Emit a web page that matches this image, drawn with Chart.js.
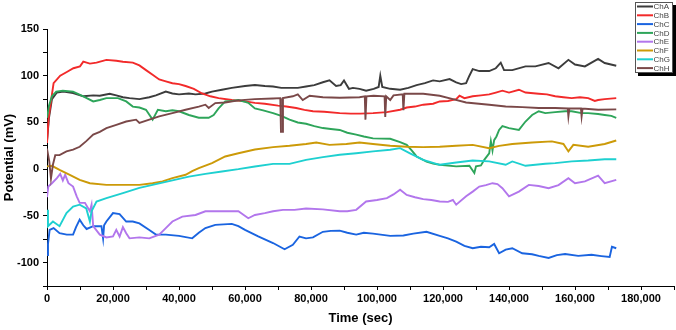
<!DOCTYPE html>
<html lang="en">
  <head>
    <meta charset="UTF-8" />
    <title>Potential vs Time</title>
    <script src="https://cdn.jsdelivr.net/npm/chart.js"></script>
    <style>
      body {
        margin: 0;
        background: #fff;
      }
      canvas {
        display: block;
      }
    </style>
  </head>
  <body>
    <canvas id="grafico" width="676" height="330"></canvas>

    <script>
      // [time (sec), potential (mV)]
      const names = ["ChA", "ChB", "ChC", "ChD", "ChE", "ChF", "ChG", "ChH"];
      const colors = ["#3c3c3c", "#f22a2a", "#1a64e0", "#2ea55a", "#b276ec", "#cc9a08", "#1ed0d0", "#7a4848"];
      const xTicks = [0, 20000, 40000, 60000, 80000, 100000, 120000, 140000, 160000, 180000];
      const yTicks = [-100, -50, 0, 50, 100, 150];

      const chA = [[0, 30], [600, 55], [1500, 75], [3000, 82], [5000, 83], [7900, 81.5], [11000, 78], [14000, 79], [16000, 78.6], [19000, 80.7], [21000, 79], [23000, 77], [25000, 76], [28000, 75], [31000, 77], [33000, 79], [36000, 83], [38000, 81], [40000, 80], [43000, 81], [45000, 80], [48000, 81], [50000, 83], [53000, 85], [56000, 87], [60000, 89], [63000, 90], [66000, 89], [68500, 88.5], [71000, 87], [73500, 87], [76000, 87], [78500, 88.5], [81000, 90], [83600, 93], [85600, 95], [87600, 89], [89000, 90], [90000, 95], [91500, 86], [92700, 87], [94700, 86], [96700, 84], [99000, 86], [100500, 88], [101000, 100], [101600, 88], [104000, 86], [107000, 85], [109500, 87], [112000, 90], [114500, 92], [117000, 95], [119000, 94], [122000, 96.4], [124000, 93], [125500, 91], [127000, 92], [128000, 100], [129000, 107], [131000, 105], [134000, 105], [136000, 108], [137500, 114], [138500, 106], [141000, 106], [145000, 110], [148000, 110], [152000, 113.6], [155000, 108], [158000, 117], [160000, 112], [163000, 110], [167000, 118], [169000, 113.6], [172500, 110.7]];
      const chB = [[0, 28], [500, 55], [1500, 80], [2000, 92], [4000, 100], [6000, 104], [8000, 108], [10000, 110], [11000, 115], [13000, 113], [15000, 114], [18000, 117], [21000, 116], [23000, 115], [26000, 114], [28000, 111], [30000, 106], [32000, 101], [34000, 96], [36000, 94], [38000, 92], [40000, 91], [42000, 89], [44500, 86], [47000, 81], [49500, 78], [52000, 76], [56000, 74], [60000, 72.5], [63000, 71], [66000, 70], [70000, 68], [72500, 67], [75500, 65.5], [78000, 63.5], [80600, 62], [84000, 61.5], [88700, 60], [92000, 59.5], [95000, 59.5], [98800, 60], [103000, 61], [107000, 63.6], [109000, 66], [111500, 67], [114000, 69], [117000, 70], [119000, 72.5], [121500, 73], [124000, 75], [125000, 78.6], [126500, 76], [129000, 78], [131500, 79], [134000, 80], [136000, 82], [138000, 84], [140000, 82], [143000, 85], [145000, 82], [149000, 80.7], [151500, 80], [154000, 78], [156500, 77], [159000, 76], [161500, 77], [164000, 76], [166000, 73], [167000, 74], [169000, 75], [172500, 76]];
      const chC = [[0, -92], [300, -80], [800, -65], [2000, -63], [3800, -68.5], [6000, -70], [7900, -70], [8800, -62], [9900, -54], [11000, -60], [12000, -64], [14000, -61], [16500, -61], [17000, -74], [17300, -60], [18000, -56], [20000, -47], [22000, -48], [24000, -56], [26000, -56], [28000, -58], [31000, -65], [33000, -70], [36000, -70], [40000, -71.4], [44000, -74], [46000, -68], [48000, -63], [51000, -59.6], [56000, -58.5], [58000, -61], [60000, -65], [64000, -72], [68500, -79], [72000, -85.7], [74500, -81], [76500, -72], [78500, -74], [80600, -73], [83600, -67], [86000, -66], [88700, -65.7], [91000, -68], [93700, -70], [96000, -68], [98800, -69], [104000, -71.4], [108000, -71], [111000, -69], [115000, -67], [119000, -71.4], [121500, -74], [124000, -77.5], [126500, -82], [129000, -84.6], [131500, -83], [134000, -83.5], [135500, -80], [137000, -90], [139000, -86], [141000, -84.6], [144000, -90], [147000, -91], [149000, -92.8], [152000, -95], [154500, -92], [157000, -90.7], [161000, -92.8], [165000, -91.6], [168000, -93], [170500, -94], [171200, -83], [172500, -84.6]];
      const chD = [[0, 55], [600, 68], [1500, 78], [2800, 83], [4800, 84], [7900, 83], [11000, 78], [14000, 72.5], [16000, 74], [18000, 76], [21500, 76], [24000, 72.5], [26000, 67], [28000, 66], [30000, 63.6], [32000, 53], [33600, 63.6], [36000, 62], [38000, 63], [40000, 62], [43000, 58], [46000, 55], [49000, 55], [50500, 58], [52000, 65], [54000, 72.5], [56000, 73], [58000, 74], [60000, 72], [61000, 71], [63000, 65], [65500, 63], [68500, 60], [71000, 57], [73500, 53], [76000, 50], [78500, 48.6], [81000, 46], [83600, 44], [86000, 43], [88700, 42], [91000, 39], [93700, 37], [96000, 35], [98800, 33], [104000, 32.5], [107000, 29], [109000, 26], [110500, 20], [112000, 13.6], [115000, 8], [117000, 6], [119000, 4.7], [124000, 3], [128000, 3.6], [129500, -4], [130000, 3], [131500, 4], [132500, 10], [134000, 17], [134500, 30], [135000, 20], [135500, 31], [136200, 35], [137000, 42], [138000, 46], [140000, 44], [143000, 42], [145000, 51], [147000, 58], [149000, 62], [151000, 60], [154000, 61], [157000, 62], [159000, 62], [162000, 60], [164000, 60], [167000, 59], [169000, 58], [171000, 57], [172500, 55]];
      const chE = [[0, -30], [400, -18.6], [1500, -15], [3000, -9.6], [4000, -5], [4800, -12], [5500, -6], [6500, -15], [7900, -18.6], [9000, -29], [9900, -36], [11500, -36], [13000, -45], [13500, -38], [14000, -61], [16000, -70], [18000, -73], [20000, -72], [21000, -65], [22000, -72], [23000, -62], [24000, -68.5], [25000, -74], [28000, -73], [31000, -74], [34000, -70], [36000, -63], [38000, -56], [41000, -50.7], [45000, -49], [48000, -45], [53000, -45], [58000, -45], [61000, -52.5], [63000, -49], [66000, -47], [68500, -45], [71500, -43.5], [75000, -43.5], [78500, -42], [83600, -43], [88700, -45], [91000, -45], [93700, -43.5], [96700, -34.6], [100000, -33], [103000, -31], [105000, -27], [107000, -22], [109000, -27.5], [111500, -30], [114000, -32], [116500, -33], [119000, -34.6], [121500, -35], [123000, -33], [124000, -38], [127000, -29], [129000, -24], [131000, -18.6], [133000, -17], [135000, -15], [136500, -16], [138000, -20.3], [140000, -29], [143000, -24], [146000, -16.8], [149000, -18], [152000, -20.3], [155000, -17], [158000, -9.6], [160000, -15], [163000, -13], [167000, -7], [169000, -15], [172500, -11.4]];
      const chF = [[0, 3], [1500, 3.6], [3800, -0.7], [6900, -6], [9900, -11.4], [13000, -15], [18000, -16.8], [23000, -16.8], [28000, -16.8], [32000, -15], [35000, -13], [38000, -9.6], [42000, -6], [44000, -2], [46000, 1.1], [50000, 6.5], [54000, 13.6], [58000, 17], [63000, 21], [68500, 23.6], [73500, 25], [78500, 27], [81600, 28.6], [85600, 26], [90700, 27], [94700, 28.6], [98800, 27], [104000, 25], [109000, 24], [114000, 23.6], [119000, 24], [124000, 25], [129000, 26], [134000, 22.5], [137000, 25], [141000, 27], [147000, 28.6], [153000, 29.7], [156500, 27], [158000, 19], [159500, 26], [164000, 24], [169000, 27], [172500, 30.7]];
      const chG = [[0, -43.5], [300, -61], [1800, -56], [3800, -61], [5900, -47], [7900, -40], [9900, -38], [11900, -42], [13000, -56], [13500, -45], [15000, -34.6], [18000, -31], [23000, -25.7], [28000, -20], [33000, -16], [38000, -12], [43000, -8], [48000, -5], [53000, -2.5], [58000, 0], [63000, 2.9], [68500, 5.7], [73500, 5.7], [78500, 10], [83600, 12.9], [88700, 15.4], [93700, 17], [98800, 19], [104000, 20.8], [107000, 22.5], [110000, 17], [114000, 10], [119000, 4.7], [124000, 7.2], [129000, 9.3], [134000, 8.3], [139000, 4.7], [141000, 8.3], [145000, 3.6], [151000, 5.8], [154000, 6.5], [159000, 8.3], [164000, 9.3], [169000, 10.7], [172500, 10.7]];
      const chH = [[0, 22], [700, 8], [1200, -10], [1800, 5], [2500, 15], [3800, 15], [5900, 19], [7900, 21], [9900, 24], [11900, 30], [14000, 37], [16000, 40], [18000, 44], [21000, 47.5], [24000, 51], [27000, 53], [28000, 49.6], [31000, 53], [34000, 56.5], [38000, 60], [42000, 63.6], [46000, 67], [48000, 69], [49000, 65.5], [51000, 70.7], [54000, 71.4], [58000, 73.6], [63000, 75], [68500, 75.7], [70700, 76], [70900, 40], [71300, 40], [71500, 76], [74500, 78], [76000, 80], [77500, 74], [79600, 78.6], [83600, 77], [88700, 76.4], [94700, 77], [96300, 78], [96500, 53], [96800, 78], [99000, 78.6], [102300, 78], [102500, 56], [102800, 78], [104000, 74], [105000, 79], [107800, 80], [108000, 63], [108300, 80.7], [114000, 80.7], [119000, 78.6], [123000, 75], [127000, 71.4], [134000, 69], [139000, 67], [144000, 66.4], [149000, 65.4], [154000, 65.4], [157800, 65], [158000, 56.5], [158300, 65], [161800, 65], [162000, 56.5], [162300, 65], [167000, 63.6], [172500, 64]];

      const series = [chA, chB, chC, chD, chE, chF, chG, chH];
      const fonte = "'Liberation Sans', Arial, sans-serif";

      // legenda em caixa com sombra, desenhada por cima do gráfico
      const legendaCaixa = {
        id: "legendaCaixa",
        afterDraw(chart) {
          const ctx = chart.ctx;
          const x = 635, y = 2, w = 38, h = 71;
          ctx.save();
          ctx.fillStyle = "#000";
          ctx.fillRect(x + 3, y + 3, w, h);
          ctx.fillStyle = "#fff";
          ctx.fillRect(x, y, w, h);
          ctx.strokeStyle = "#555";
          ctx.lineWidth = 1;
          ctx.strokeRect(x + 0.5, y + 0.5, w - 1, h - 1);
          ctx.font = "8px " + fonte;
          ctx.textBaseline = "middle";
          chart.data.datasets.forEach((ds, i) => {
            const yy = y + 4.5 + i * 8.8;
            ctx.strokeStyle = ds.borderColor;
            ctx.lineWidth = 2;
            ctx.beginPath();
            ctx.moveTo(x + 2, yy);
            ctx.lineTo(x + 18, yy);
            ctx.stroke();
            ctx.fillStyle = "#444";
            ctx.fillText(ds.label, x + 18.5, yy + 0.5);
          });
          ctx.restore();
        },
      };

      const ctx = document.getElementById("grafico").getContext("2d");
      new Chart(ctx, {
        type: "line",
        data: {
          datasets: series.map((s, i) => ({
            label: names[i],
            data: s.map(([t, v]) => ({ x: t, y: v })),
            borderColor: colors[i],
            borderWidth: 1.9,
            pointRadius: 0,
            tension: 0,
            fill: false,
            order: series.length - i,
          })),
        },
        options: {
          responsive: false,
          animation: false,
          layout: { padding: { top: 29, right: 2, left: 0, bottom: 0 } },
          plugins: {
            legend: { display: false },
            tooltip: { enabled: false },
          },
          scales: {
            x: {
              type: "linear",
              min: 0,
              max: 190000,
              afterFit: (s) => { s.height = 44; },
              afterBuildTicks: (s) => {
                const t = [];
                for (let v = 0; v <= 190000; v += 10000) t.push({ value: v });
                s.ticks = t;
              },
              border: { display: true, color: "#000", width: 1 },
              grid: { drawOnChartArea: false, drawTicks: true, tickLength: 4, tickColor: "#000" },
              ticks: {
                autoSkip: false,
                maxRotation: 0,
                padding: 2,
                color: "#000",
                font: { family: fonte, size: 11, weight: "bold" },
                callback: (v) => (xTicks.includes(v) ? v.toLocaleString("en-US") : ""),
              },
              title: {
                display: true,
                text: "Time (sec)",
                color: "#000",
                padding: { top: 0, bottom: 4 },
                font: { family: fonte, size: 13, weight: "bold" },
              },
            },
            y: {
              min: -125,
              max: 150,
              afterFit: (s) => { s.width = 47; },
              afterBuildTicks: (s) => {
                const t = [];
                for (let v = -125; v <= 150; v += 25) t.push({ value: v });
                s.ticks = t;
              },
              border: { display: true, color: "#000", width: 1 },
              grid: { drawOnChartArea: false, drawTicks: true, tickLength: 4, tickColor: "#000" },
              ticks: {
                autoSkip: false,
                padding: 4,
                color: "#000",
                font: { family: fonte, size: 11, weight: "bold" },
                callback: (v) => (yTicks.includes(v) ? String(v) : ""),
              },
              title: {
                display: true,
                text: "Potential (mV)",
                color: "#000",
                padding: { top: 2, bottom: 0 },
                font: { family: fonte, size: 13, weight: "bold" },
              },
            },
          },
        },
        plugins: [legendaCaixa],
      });
    </script>
  </body>
</html>
